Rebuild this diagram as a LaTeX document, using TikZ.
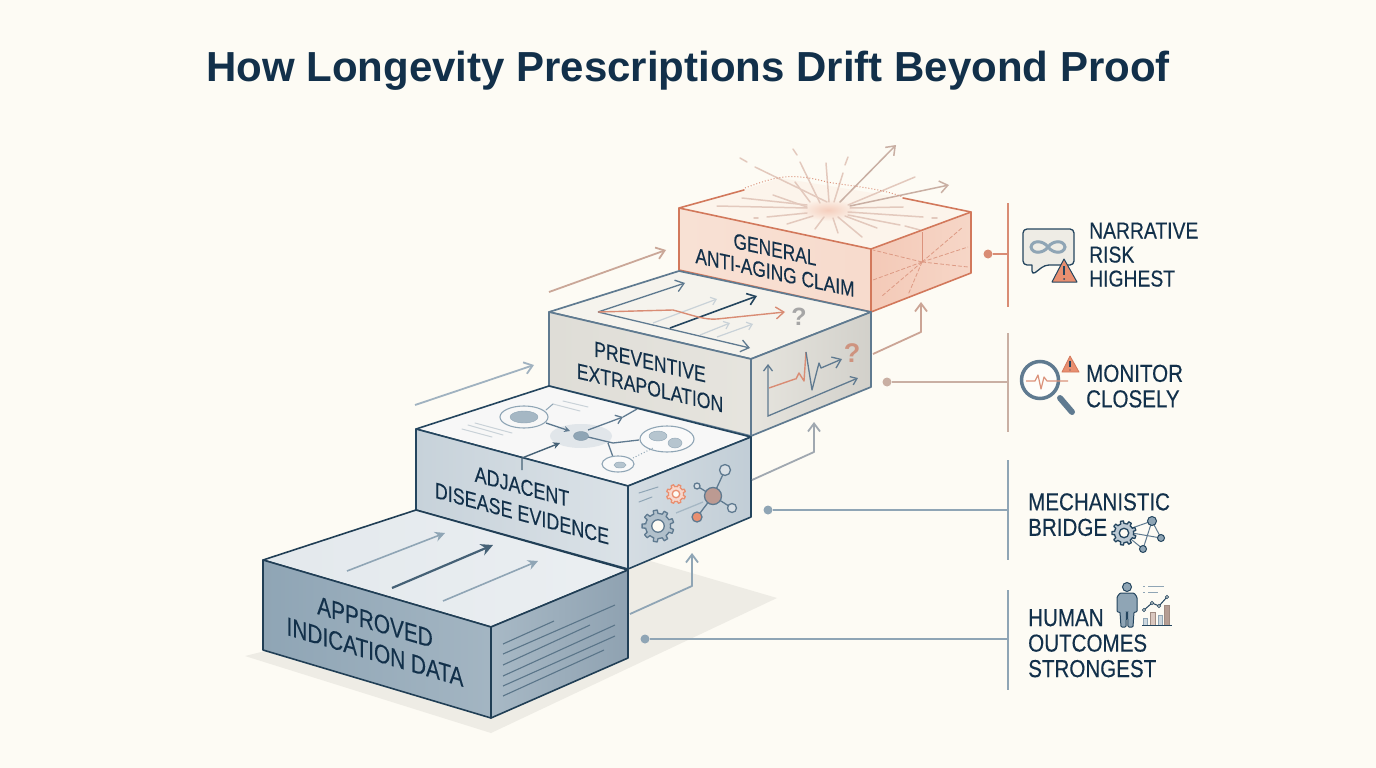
\documentclass[tikz,border=0pt]{standalone}
\usepackage{fontspec}
\setmainfont{Liberation Sans}
\newfontfamily\lblfont[FakeStretch=0.8,FakeBold=0.25]{Liberation Sans}
\newfontfamily\sidefont[FakeStretch=0.84,FakeBold=0.25]{Liberation Sans}
\usetikzlibrary{arrows.meta}
\definecolor{bgc}{HTML}{FDFBF4}
\definecolor{ink}{HTML}{12304A}
\definecolor{navy}{HTML}{24455E}
\definecolor{slate}{HTML}{5F7A90}
\definecolor{steel}{HTML}{8FA5B5}
\definecolor{pale}{HTML}{C9D2D8}
\definecolor{tan}{HTML}{C9AFA3}
\definecolor{rust}{HTML}{D2785B}
\definecolor{coral}{HTML}{E98F70}
\definecolor{ray}{HTML}{E3C9BD}
\tikzset{
 barb/.style={-{Straight Barb[length=8pt,width=12pt]}},
 faceA/.style={draw=navy!90!black,line width=1.6pt,line join=round},
 faceB/.style={draw=navy,line width=1.6pt,line join=round},
 faceC/.style={draw=slate,line width=1.7pt,line join=round},
 faceD/.style={draw=rust,line width=1.6pt,line join=round},
 blocktext/.style={text=ink,align=center,transform shape,inner sep=0pt},
 sidetext/.style={text=ink,align=left,anchor=north west,inner sep=0pt,font=\sidefont\fontsize{24.5}{25.5}\selectfont},
 leaddot/.style={circle,inner sep=0pt,minimum size=9pt},
 thinl/.style={line width=1pt,line cap=round},
 rayl/.style={draw=ray,line width=1.5pt,line cap=round},
 burst/.style={draw=rust!75,line width=.8pt,dashed,dash pattern=on 4pt off 2pt},
 warn/.style={fill=coral,draw=navy,line width=1pt,line join=round},
}
\newcommand{\gearglyph}[6]{% x y r teeth fill draw
 \draw[fill=#5,draw=#6,line width=1.3pt,line join=round,shift={(#1,#2)}]
  (0:#3) \foreach \a in {1,...,#4}{
   -- ({(\a-1)*360/#4+90/#4}:#3) -- ({(\a-1)*360/#4+115/#4}:#3*1.28) -- ({(\a-1)*360/#4+245/#4}:#3*1.28) -- ({(\a-1)*360/#4+270/#4}:#3) -- ({\a*360/#4}:#3)
  } -- cycle;
 \draw[fill=bgc,draw=#6,line width=1.3pt] (#1,#2) circle[radius=#3*.5];
}
\begin{document}
\begin{tikzpicture}[x=1pt,y=-1pt]
\useasboundingbox (0,0) rectangle (1376,768);
\fill[bgc] (0,0) rectangle (1376,768);

% title
\node[text=ink,font=\bfseries\fontsize{42}{50}\selectfont,inner sep=0pt] (title) at (688,71) {How Longevity Prescriptions Drift Beyond Proof};

% ground shadow
\fill[black!6!bgc] (245,656) -- (491,733) -- (777,598) -- (640,558) -- cycle;

% ---------- block 4
\fill[coral!7!bgc] (679,208) -- (744,190) -- (780,178) -- (903,198) -- (971,212) -- (871,249) -- cycle;
\shade[inner color=coral!42!bgc,outer color=coral!7!bgc] (828,210) ellipse[x radius=30,y radius=11];
\foreach \xa/\ya/\xb/\yb in {827/202/755/167,747/162/740/158,820/203/800/162,797/155/793/149,829/202/826/163,834/202/843/173,845/165/848/157,848/205/915/177,807/208/717/206,807/205/742/198,810/202/795/182,807/207/773/195,807/213/767/217,758/218/754/218,813/216/787/224,824/217/815/229,833/218/838/233,838/217/862/237,848/215/900/225,905/226/920/230,848/212/923/217,932/218/937/218,850/208/903/207,845/216/877/228}
  \draw[rayl] (\xa,\ya) -- (\xb,\yb);
\draw[rayl,draw=tan,barb] (840,202) -- (896,145);
\draw[rayl,draw=tan,barb] (850,206) -- (949,185);
\draw[draw=rust!80,line width=1pt,dotted] (745,188) .. controls (775,177) and (790,172) .. (827,182) .. controls (850,186) and (880,188) .. (903,197);
\path[faceD,left color=coral!24!bgc,right color=coral!30!bgc] (679,208) -- (871,249) -- (871,312) -- (679,270) -- cycle;
\path[faceD,left color=coral!46!bgc,right color=coral!34!bgc] (871,249) -- (971,212) -- (971,273) -- (871,312) -- cycle;
\draw[rust,line width=1.6pt,line cap=round] (679,208) -- (744,190) (903,198) -- (971,212);
\foreach \xb/\yb in {873/280,882/296,908/295,963/227,968/247,968/267,873/250}
  \draw[burst] (922,262) -- (\xb,\yb);
\draw[rust!80,line width=.8pt] (922,232) -- (922,262);
\node[blocktext,yslant=-.214,font=\lblfont\fontsize{21.7}{23}\selectfont] (lab4) at (775,261) {GENERAL\\ANTI-AGING CLAIM};

% ---------- block 3
\path[faceC,fill=black!3!bgc] (549,312) -- (679,271) -- (871,312) -- (751,359) -- cycle;
\foreach \xa/\ya/\xb/\yb in {653/323/717/299,700/335/730/323,717/337/753/324}
  \draw[pale,line width=1.2pt,-{Straight Barb[length=5pt,width=8pt]}] (\xa,\ya) -- (\xb,\yb);
\draw[slate,line width=1.3pt,barb] (598,312) -- (685,283);
\draw[slate,line width=1.3pt,barb] (598,312) -- (750,348);
\draw[navy,line width=1.6pt,barb] (670,328) -- (757,296);
\draw[rust!85,line width=1.4pt,barb] (598,312) -- (673,310) .. controls (695,316) and (705,320) .. (717,319) -- (785,312);
\node[text=gray!70,font=\bfseries\fontsize{25}{25}\selectfont,inner sep=0pt] (q1) at (799,317) {?};
\path[faceC,left color=black!12!bgc,right color=black!9!bgc] (549,312) -- (751,359) -- (751,436) -- (549,386) -- cycle;
\path[faceC,left color=black!9!bgc,right color=black!17!bgc] (751,359) -- (871,312) -- (871,387) -- (751,436) -- cycle;
\draw[slate,line width=1.3pt,{Straight Barb[length=6pt,width=9pt]}-{Straight Barb[length=6pt,width=9pt]}] (768,364) -- (768,416) -- (858,378);
\draw[rust!85,line width=1.4pt,line join=round] (769,388) -- (795,379) -- (796,379) -- (799,373) -- (804,381) -- (806,352);
\draw[slate,line width=1.3pt,line join=round,barb] (806,352) -- (812,390) -- (819,363) -- (821,368) -- (842,359);
\node[text=rust!50!tan,font=\bfseries\fontsize{27}{27}\selectfont,inner sep=0pt] (q2) at (852,353) {?};
\node[blocktext,yslant=-.233,font=\lblfont\fontsize{22}{26}\selectfont] (lab3) at (650,375) {PREVENTIVE\\EXTRAPOLATION};

% ---------- block 2
\path[faceB,fill=black!3!white] (416,429) -- (549,386) -- (751,437) -- (628,486) -- cycle;
\fill[pale!55!white] (581,436) ellipse[x radius=31,y radius=12];
\foreach \xa/\ya/\xb/\yb in {462/429/492/437,468/425/503/435,475/423/512/433,563/401/588/407,553/404/580/411}
  \draw[pale,thinl] (\xa,\ya) -- (\xb,\yb);
\draw[steel,thinl] (546,410) -- (553,404);
\draw[steel,line width=1.1pt,fill=black!3!white] (524,417) ellipse[x radius=24,y radius=11];
\fill[steel!80,draw=steel] (524,417) ellipse[x radius=14,y radius=6];
\draw[slate,line width=1.3pt,-{Stealth[length=6pt,width=6pt]}] (546,423) -- (570,431);
\draw[slate,line width=1.3pt] (588,437) -- (613,443) -- (639,440) (608,443) -- (613,457);
\draw[slate,line width=1.3pt,-{Straight Barb[length=6pt,width=9pt]}] (588,430) -- (623,417);
\draw[slate,line width=1.3pt] (623,417) -- (637,409);
\fill[steel,draw=slate!80] (581,436) ellipse[x radius=7.5,y radius=4.5];
\draw[steel,line width=1.1pt,fill=black!2!white] (667,439) ellipse[x radius=27,y radius=13];
\fill[steel!65,draw=steel] (658,436) ellipse[x radius=9,y radius=5];
\fill[steel!65,draw=steel] (675,443) ellipse[x radius=7,y radius=5];
\draw[steel,line width=1.1pt,fill=black!2!white] (618,464) ellipse[x radius=16,y radius=8];
\fill[steel!65,draw=steel] (620,465) ellipse[x radius=6,y radius=3];
\draw[steel,line width=1pt,dotted] (633,458) -- (653,448);
\path[faceB,left color=steel!50!white,right color=steel!32!white] (416,429) -- (628,486) -- (628,569) -- (416,510) -- cycle;
\path[faceB,left color=steel!38!white,right color=steel!55!white] (628,486) -- (751,437) -- (751,517) -- (628,569) -- cycle;
\draw[navy!85,line width=1.4pt,-{Stealth[length=7pt,width=7pt]}] (522,470) -- (522,458) -- (560,443);
\draw[steel,thinl] (639,493) -- (658,487) (639,502) -- (652,497);
\gearglyph{658}{526}{12.5}{9}{steel!70!white}{slate}
\gearglyph{676}{494}{7.5}{8}{coral!35!white}{coral}
\draw[steel!80,line width=1.3pt] (676,513) -- (703,502);
\draw[slate,line width=1.3pt] (713,496) -- (725,470) (713,496) -- (697,486) (713,496) -- (732,508) (713,496) -- (697,517);
\draw[slate,line width=1.3pt,fill=steel!35!white] (725,470) circle[radius=5.5];
\draw[slate,line width=1.3pt,fill=steel!35!white] (697,486) circle[radius=3];
\draw[slate,line width=1.3pt,fill=steel!35!white] (732,508) circle[radius=4.5];
\draw[slate,line width=1.3pt,fill=coral] (697,517) circle[radius=5];
\draw[slate,line width=1.3pt,fill=coral!50!steel] (713,496) circle[radius=8.5];
\node[blocktext,yslant=-.269,font=\lblfont\fontsize{22.4}{27}\selectfont] (lab2) at (522,500) {ADJACENT\\DISEASE EVIDENCE};

% ---------- block 1
\path[faceA,left color=steel!25!white,right color=steel!18!white] (263,560) -- (416,510) -- (628,570) -- (491,627) -- cycle;
\draw[steel,line width=1.6pt,-{Stealth[length=10pt,width=10pt]}] (347,571) -- (445,533);
\draw[navy!85,line width=2.2pt,-{Stealth[length=12pt,width=12pt]}] (392,588) -- (493,545);
\draw[steel,line width=1.6pt,-{Stealth[length=10pt,width=10pt]}] (443,601) -- (538,561);
\path[faceA,left color=steel,right color=steel!82!white] (263,560) -- (491,627) -- (491,718) -- (263,650) -- cycle;
\path[faceA,left color=steel!78!white,right color=slate!70!white] (491,627) -- (628,570) -- (628,658) -- (491,718) -- cycle;
\foreach \xa/\ya/\xb/\yb in {503/644/554/621,503/654/615/605,503/665/590/625,503/676/615/625,503/686/615/636,503/696/604/650}
  \draw[navy!50!steel,line width=1.1pt] (\xa,\ya) -- (\xb,\yb);
\node[blocktext,yslant=-.294,font=\lblfont\fontsize{26}{30}\selectfont] (lab1) at (375,637) {APPROVED\\INDICATION DATA};

% ---------- step connectors
\coordinate (s1) at (630,614); \coordinate (s1m) at (692,586); \coordinate (s1e) at (692,553);
\coordinate (s2) at (752,480); \coordinate (s2m) at (814,452); \coordinate (s2e) at (814,422);
\coordinate (s3) at (873,354); \coordinate (s3m) at (921,332); \coordinate (s3e) at (921,302);
\coordinate (a1) at (415,405); \coordinate (a1e) at (534,365);
\coordinate (a2) at (549,292); \coordinate (a2e) at (666,250);
\draw[steel,line width=1.8pt,line join=round,barb] (s1) -- (s1m) -- (s1e);
\draw[steel!70!tan,line width=1.8pt,line join=round,barb] (s2) -- (s2m) -- (s2e);
\draw[tan!80!rust,line width=1.8pt,line join=round,barb] (s3) -- (s3m) -- (s3e);
\draw[steel!85,line width=1.8pt,barb] (a1) -- (a1e);
\draw[tan!85!rust,line width=1.8pt,barb] (a2) -- (a2e);

% ---------- bracket bars and leaders
\coordinate (b4t) at (1008,203); \coordinate (b4b) at (1008,307); \coordinate (j4) at (1008,254);
\coordinate (b3t) at (1008,333); \coordinate (b3b) at (1008,432); \coordinate (j3) at (1008,382);
\coordinate (b2t) at (1008,460); \coordinate (b2b) at (1008,560); \coordinate (j2) at (1008,510);
\coordinate (b1t) at (1008,590); \coordinate (b1b) at (1008,690); \coordinate (j1) at (1008,639);
\node[leaddot,fill=rust!85] (d4) at (988,254) {};
\node[leaddot,fill=tan] (d3) at (887,382) {};
\node[leaddot,fill=steel] (d2) at (768,510) {};
\node[leaddot,fill=steel] (d1) at (645,639) {};
\draw[rust!85,line width=1.5pt] (b4t) -- (b4b) (d4) -- (j4);
\draw[tan,line width=1.5pt] (b3t) -- (b3b) (d3) -- (j3);
\draw[steel,line width=1.5pt] (b2t) -- (b2b) (d2) -- (j2);
\draw[steel,line width=1.5pt] (b1t) -- (b1b) (d1) -- (j1);

% ---------- side labels
\node[sidetext,font=\sidefont\fontsize{23}{24}\selectfont] (t4) at (1089,222.5) {NARRATIVE\\RISK\\HIGHEST};
\node[sidetext] (t3) at (1086,364.5) {MONITOR\\CLOSELY};
\node[sidetext] (t2) at (1028,493) {MECHANISTIC\\BRIDGE};
\node[sidetext] (t1) at (1028,609) {HUMAN\\OUTCOMES\\STRONGEST};

% speech bubble icon
\draw[navy,line width=1.3pt,fill=black!6!bgc,line join=round,rounded corners=4pt] (1023,229) -- (1074,229) -- (1074,265) -- (1045,265) -- (1032,275) [sharp corners] -- (1032,265) [rounded corners=4pt] -- (1023,265) -- cycle;
\draw[steel,line width=3pt] (1048,247) .. controls (1043,240) and (1032,240) .. (1031,247) .. controls (1032,254) and (1043,254) .. (1048,247) .. controls (1053,240) and (1064,240) .. (1065,247) .. controls (1064,254) and (1053,254) .. (1048,247);
\draw[warn] (1064,259) -- (1077,282) -- (1052,282) -- cycle;
\draw[navy,line width=1.6pt] (1064,266) -- (1064,275);
\fill[navy] (1064,279) circle[radius=1];

% magnifier icon
\draw[slate,line width=6pt,line cap=round] (1060,398) -- (1072,412);
\draw[slate,line width=3.5pt,fill=white!50!bgc] (1040,380) circle[radius=18.5];
\draw[rust!80,line width=1.2pt,line join=round] (1026,381) -- (1035,381) -- (1038,375) -- (1041,389) -- (1044,377) -- (1047,381) -- (1068,381);
\draw[warn,draw=rust,line width=.8pt] (1070,356) -- (1079,372) -- (1062,372) -- cycle;
\draw[navy,line width=1.2pt] (1070,361) -- (1070,367);
\fill[navy] (1070,370) circle[radius=.7];

% bridge icon
\draw[slate,line width=1pt] (1132,528) -- (1152,521) -- (1161,538) -- (1132,533) (1132,540) -- (1143,549) -- (1152,521);
\gearglyph{1124}{533}{9.5}{9}{steel!60!white}{navy}
\draw[navy,line width=1pt,fill=steel] (1152,521) circle[radius=4.5];
\draw[navy,line width=1pt,fill=steel] (1161,538) circle[radius=3.5];
\draw[navy,line width=1pt,fill=steel] (1143,549) circle[radius=3.5];

% person and chart icon
\draw[navy,line width=1pt,fill=steel] (1127,587) circle[radius=4.5];
\draw[navy,line width=1pt,fill=steel,rounded corners=1pt] (1120,593) -- (1134,593) -- (1137,597) -- (1137,612) -- (1134,612) -- (1133,627) -- (1128,627) -- (1127.5,612) -- (1126.5,612) -- (1126,627) -- (1121,627) -- (1120,612) -- (1117,612) -- (1117,597) -- cycle;
\draw[steel,line width=.8pt,fill=steel!45!white] (1143,618) rectangle (1147,625);
\draw[tan!80!black,line width=.8pt,fill=tan!70!white] (1150,612) rectangle (1155,625);
\draw[steel,line width=.8pt,fill=steel!45!white] (1158,615) rectangle (1162,625);
\draw[tan!80!black,line width=.8pt,fill=tan!90!black] (1164,605) rectangle (1169,625);
\draw[navy,line width=1pt] (1142,625) -- (1172,625);
\draw[navy,line width=1pt] (1144,610) -- (1152,603) -- (1159,606) -- (1167,597);
\foreach \x/\y in {1144/610,1152/603,1159/606,1167/597} \draw[navy,line width=.8pt,fill=bgc] (\x,\y) circle[radius=1.6];
\draw[steel,line width=1pt] (1143,586) -- (1145,586) (1148,586) -- (1164,586) (1143,592) -- (1145,592) (1148,592) -- (1158,592);
\end{tikzpicture}
\end{document}
